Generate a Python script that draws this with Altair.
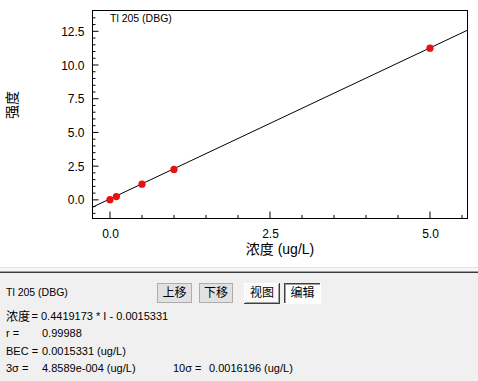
import altair as alt
import pandas as pd

# ---- data ----
conc = [0.0, 0.1, 0.5, 1.0, 5.0]
intensity = [0.01, 0.24, 1.16, 2.26, 11.25]
fit_x = [-0.281, 5.594]
fit_y = [-0.56, 12.6]
x_major = [0.0, 2.5, 5.0]
x_minor = [0.5, 1.0, 1.5, 2.0, 3.0, 3.5, 4.0, 4.5, 5.5]
y_major = [0.0, 2.5, 5.0, 7.5, 10.0, 12.5]
y_minor = [-1.0, -0.5, 0.5, 1.0, 1.5, 2.0, 3.0, 3.5, 4.0, 4.5, 5.5, 6.0, 6.5, 7.0,
           8.0, 8.5, 9.0, 9.5, 10.5, 11.0, 11.5, 12.0, 13.0, 13.5]

XD = [-0.281, 5.594]
YD = [-1.42, 14.08]
W, H = 376, 209
LAT = "Liberation Sans, Noto Sans CJK SC"
CJK = "Noto Sans CJK SC"

xs = alt.Scale(domain=XD, nice=False, zero=False)
ys = alt.Scale(domain=YD, nice=False, zero=False)

pts = pd.DataFrame({"c": conc, "i": intensity})
fit = pd.DataFrame({"c": fit_x, "i": fit_y})
one = pd.DataFrame({"a": [0]})

base_axes = alt.Chart(pts).mark_point(opacity=0).encode(
    x=alt.X("c:Q", scale=xs, title=None,
            axis=alt.Axis(values=x_major, format=".1f", ticks=False, domain=False, grid=False,
                          labelFontSize=12, labelFont=LAT, labelColor="black", labelPadding=9)),
    y=alt.Y("i:Q", scale=ys, title=None,
            axis=alt.Axis(values=y_major, format=".1f", ticks=False, domain=False, grid=False,
                          labelFontSize=12, labelFont=LAT, labelColor="black", labelPadding=8)),
)

line = alt.Chart(fit).mark_line(color="black", strokeWidth=1).encode(
    x=alt.X("c:Q", scale=xs), y=alt.Y("i:Q", scale=ys))
points = alt.Chart(pts).mark_circle(size=52, color="#e81010", opacity=1).encode(
    x=alt.X("c:Q", scale=xs), y=alt.Y("i:Q", scale=ys))

def xticks(vals, length):
    return alt.Chart(pd.DataFrame({"t": vals})).mark_rule(color="black", strokeWidth=1).encode(
        x=alt.X("t:Q", scale=xs), y=alt.value(H - 0.5), y2=alt.value(H - 0.5 - length))

def yticks(vals, length):
    return alt.Chart(pd.DataFrame({"t": vals})).mark_rule(color="black", strokeWidth=1).encode(
        y=alt.Y("t:Q", scale=ys), x=alt.value(0.5), x2=alt.value(0.5 + length))

def hr(x1, x2, y, color):
    return alt.Chart(one).mark_rule(color=color, strokeWidth=1).encode(
        x=alt.value(x1), x2=alt.value(x2), y=alt.value(y))

def vr(x, y1, y2, color):
    return alt.Chart(one).mark_rule(color=color, strokeWidth=1).encode(
        x=alt.value(x), y=alt.value(y1), y2=alt.value(y2))

def box(x1, x2, y1, y2, fill):
    return alt.Chart(one).mark_rect(color=fill).encode(
        x=alt.value(x1), x2=alt.value(x2), y=alt.value(y1), y2=alt.value(y2))

def txt(s, x, y, size=11, font=LAT, align="left", angle=0):
    return alt.Chart(one).mark_text(text=s, fontSize=size, font=font, align=align,
                                    baseline="middle", color="black", angle=angle).encode(
        x=alt.value(x), y=alt.value(y))

frame = [hr(0, W, 0.5, "black"), hr(0, W, H - 0.5, "black"),
         vr(0.5, 0, H, "black"), vr(W - 0.5, 0, H, "black")]

# bottom panel
panel = [
    box(-92, 386, 258, 261, "#f7f7f7"),
    hr(-92, 386, 257.5, "#e3e3e3"),
    hr(-92, 386, 261.5, "#a0a0a0"),
    hr(-92, 386, 262.5, "#3c3c3c"),
    box(-92, 386, 263, 371, "#f0f0f0"),
    # 上移
    box(65.5, 99.5, 273.5, 292.5, "#e1e1e1"),
    hr(65, 100, 273.5, "#adadad"), hr(65, 100, 292.5, "#adadad"),
    vr(65.5, 273, 293, "#adadad"), vr(99.5, 273, 293, "#adadad"),
    # 下移
    box(107.5, 140.5, 273.5, 292.5, "#e1e1e1"),
    hr(107, 141, 273.5, "#adadad"), hr(107, 141, 292.5, "#adadad"),
    vr(107.5, 273, 293, "#adadad"), vr(140.5, 273, 293, "#adadad"),
    # 视图 (raised)
    box(152, 188, 273, 294, "#f9f9f9"),
    hr(152, 188, 273.5, "#ffffff"), vr(152.5, 273, 294, "#ffffff"),
    hr(152, 188, 293.5, "#404040"), vr(187.5, 273, 294, "#404040"),
    hr(153, 187, 292.5, "#a0a0a0"), vr(186.5, 274, 293, "#a0a0a0"),
    # 编辑 (pressed)
    box(192, 229, 273, 294, "#ffffff"),
    hr(192, 229, 273.5, "#404040"), vr(192.5, 273, 294, "#404040"),
    hr(193, 228, 274.5, "#a0a0a0"), vr(193.5, 274, 293, "#a0a0a0"),
    hr(192, 229, 293.5, "#ffffff"), vr(228.5, 273, 294, "#ffffff"),
    txt("上移", 82.5, 283, 12, CJK, "center"),
    txt("下移", 124, 283, 12, CJK, "center"),
    txt("视图", 170, 283, 12, CJK, "center"),
    txt("编辑", 210.5, 283, 12, CJK, "center"),
    txt("Tl 205 (DBG)", -86, 283.3, 10.5),
    txt("浓度", -86, 306.7, 12, CJK),
    txt("= 0.4419173 * I - 0.0015331", -60.5, 306.7, 11),
    txt("r =", -86, 324, 11),
    txt("0.99988", -50, 324, 11),
    txt("BEC =", -86, 341.7, 11),
    txt("0.0015331 (ug/L)", -50, 341.7, 11),
    txt("3σ =", -86, 359.3, 11),
    txt("4.8589e-004 (ug/L)", -50, 359.3, 11),
    txt("10σ =", 81, 359.3, 11),
    txt("0.0016196 (ug/L)", 117, 359.3, 11),
]

titles = [
    txt("Tl 205 (DBG)", 18, 9.3, 10.5),
    txt("浓度 (ug/L)", W / 2, 240, 14, LAT, "center"),
    txt("强度", -79, 95, 14, CJK, "center", 270),
]

layers = [base_axes, line, points,
          xticks(x_major, 7), xticks(x_minor, 3.5),
          yticks(y_major, 6), yticks(y_minor, 3)] + frame + titles + panel

chart = alt.layer(*layers).properties(
    width=W, height=H,
    padding={"left": 92, "top": 10, "right": 10, "bottom": 162},
    autosize=alt.AutoSizeParams(type="none"),
    background="white",
).configure_view(stroke=None)

chart.save("out.html", embed_options={"renderer": "svg", "actions": False})
